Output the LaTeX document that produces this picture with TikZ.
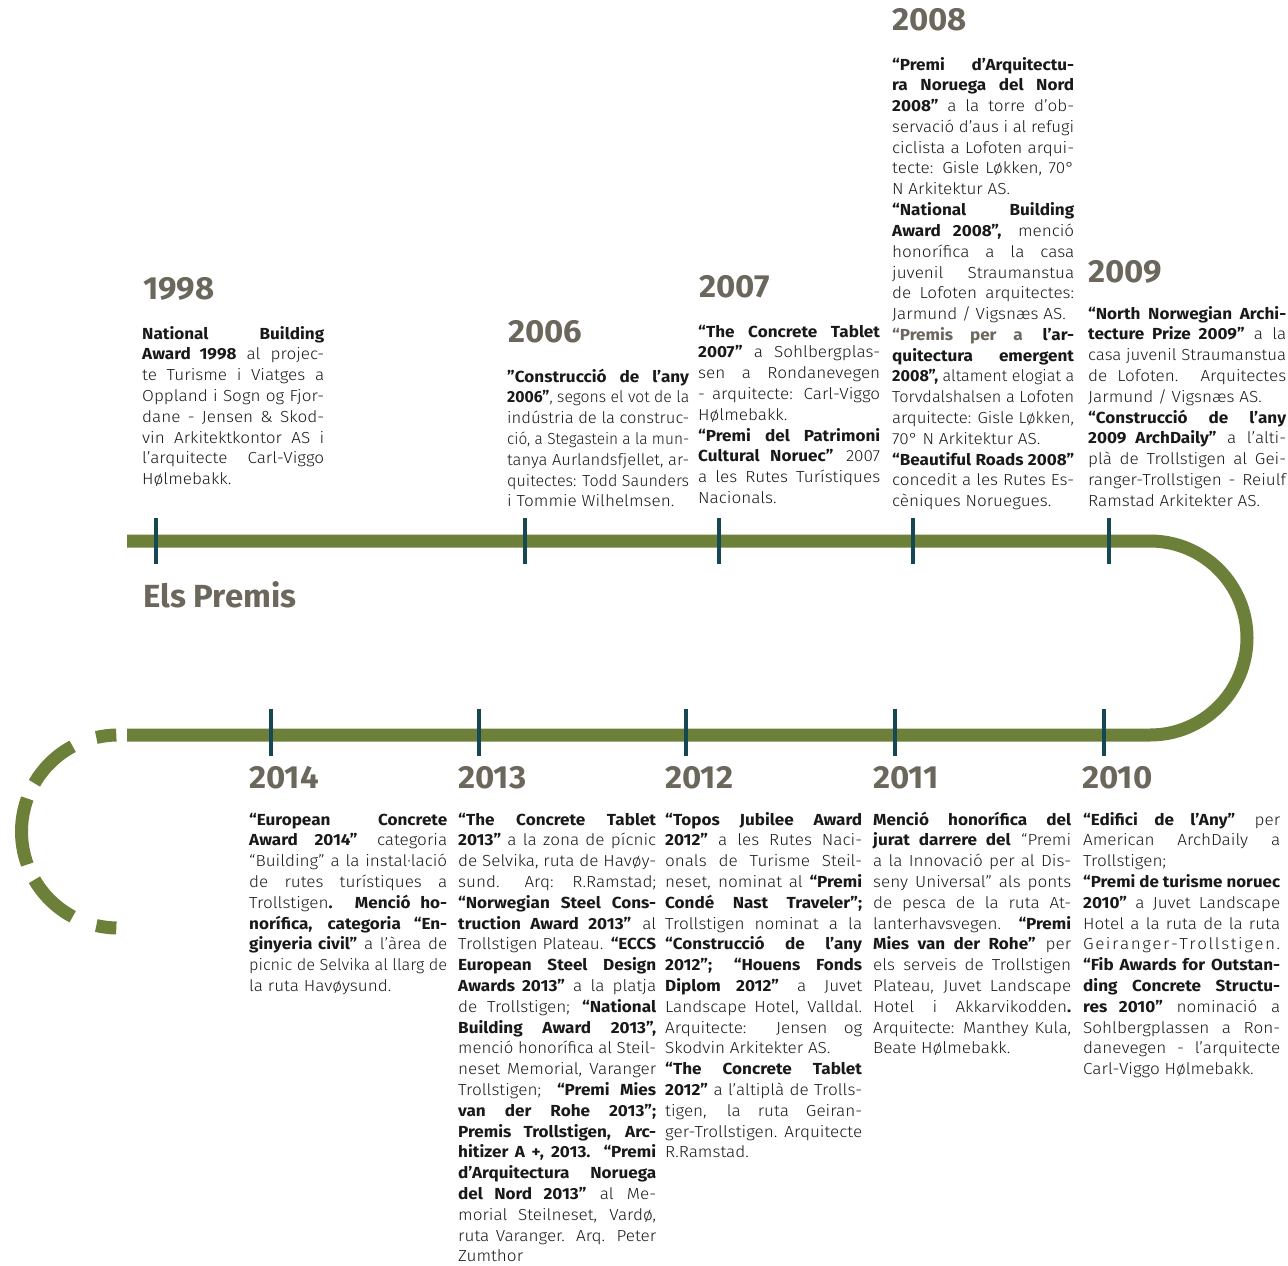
\documentclass[tikz,border=0pt]{standalone}
\usepackage{fontspec}
\usepackage{graphicx}
\setmainfont{Fira Sans}[UprightFont=* Light,BoldFont=* Bold,FakeStretch=1.07]
\newfontfamily\yfont{Fira Sans}[UprightFont=* Bold,FakeStretch=1.03]
\definecolor{grn}{RGB}{108,128,58}
\definecolor{yr}{RGB}{107,103,93}
\definecolor{tickc}{RGB}{22,72,84}
\definecolor{txt}{RGB}{25,25,25}
\newsavebox\lbox
\newcommand\JL[1]{\sbox\lbox{#1}\ifdim\wd\lbox>\hsize
  \hbox to\hsize{\resizebox{\hsize}{\height}{\usebox\lbox}}\else
  \hbox to\hsize{#1}\fi}
\newcommand\EL[1]{\sbox\lbox{#1}\ifdim\wd\lbox>\hsize
  \hbox to\hsize{\resizebox{\hsize}{\height}{\usebox\lbox}}\else
  \hbox{#1}\fi}
\newcommand\blk[2]{\vtop{\hsize=#1pt\relax#2}}
\begin{document}
\begin{tikzpicture}[x=1pt,y=-1pt,
  year/.style={anchor=base west,inner sep=0pt,font=\fontsize{32}{36}\selectfont\yfont,text=yr},
  body/.style={anchor=base west,inner sep=0pt,font=\fontsize{16}{20.8}\selectfont,text=txt},
  tickmark/.style={draw=tickc,line width=3.5pt},
  tl/.style={draw=grn,line width=13pt}]
\useasboundingbox (0,0) rectangle (1288,1266);

% timeline
\draw[tl] (127,541) -- (1150,541) arc[start angle=90,end angle=-90,radius=97pt] -- (127,735);
\foreach \a/\b in {91/103,118/150,160/200,210/242,257/269}
  \draw[tl] ({118+96.5*cos(\a)},{831.5-96.5*sin(\a)}) arc[start angle=\a,end angle=\b,radius=96.5pt];
\foreach \x in {156,525,719,913,1109} \draw[tickmark] (\x,518) -- (\x,564);
\foreach \x in {271,479,686,895,1104} \draw[tickmark] (\x,709) -- (\x,756);

\node[year] (title) at (143,607) {Els Premis};

% years
\node[year] (y1998) at (143,299) {1998};
\node[year] (y2006) at (508,342) {2006};
\node[year] (y2007) at (699,297) {2007};
\node[year] (y2008) at (892,30) {2008};
\node[year] (y2009) at (1088,282) {2009};
\node[year] (y2014) at (249,788) {2014};
\node[year] (y2013) at (458,788) {2013};
\node[year] (y2012) at (665,788) {2012};
\node[year] (y2011) at (873,788) {2011};
\node[year] (y2010) at (1082,788) {2010};

% texts
\node[body] (t1998) at (142,339) {\blk{182}{%
\JL{\textbf{National Building}}
\JL{\textbf{Award 1998} al projec-}
\JL{te Turisme i Viatges a}
\JL{Oppland i Sogn og Fjor-}
\JL{dane - Jensen \& Skod-}
\JL{vin Arkitektkontor AS i}
\JL{l’arquitecte Carl-Viggo}
\EL{Hølmebakk.}}};

\node[body] (t2006) at (507,382) {\blk{182}{%
\JL{\textbf{"Construcció de l’any}}
\JL{\textbf{2006"}, segons el vot de la}
\JL{indústria de la construc-}
\JL{ció, a Stegastein a la mun-}
\JL{tanya Aurlandsfjellet, ar-}
\JL{quitectes: Todd Saunders}
\EL{i Tommie Wilhelmsen.}}};

\node[body] (t2007) at (698,337) {\blk{182}{%
\JL{\textbf{“The Concrete Tablet}}
\JL{\textbf{2007”} a Sohlbergplas-}
\JL{sen a Rondanevegen}
\JL{- arquitecte: Carl-Viggo}
\EL{Hølmebakk.}
\JL{\textbf{“Premi del Patrimoni}}
\JL{\textbf{Cultural Noruec”} 2007}
\JL{a les Rutes Turístiques}
\EL{Nacionals.}}};

\node[body] (t2008) at (892,70) {\blk{182}{%
\JL{\textbf{“Premi d’Arquitectu-}}
\JL{\textbf{ra Noruega del Nord}}
\JL{\textbf{2008”} a la torre d’ob-}
\JL{servació d’aus i al refugi}
\JL{ciclista a Lofoten arqui-}
\JL{tecte: Gisle Løkken, 70°}
\EL{N Arkitektur AS.}
\JL{\textbf{“National Building}}
\JL{\textbf{Award 2008”,} menció}
\JL{honorífica a la casa}
\JL{juvenil Straumanstua}
\JL{de Lofoten arquitectes:}
\EL{Jarmund / Vigsnæs AS.}
\JL{\textcolor{yr}{\textbf{“Premis per a}} \textbf{l’ar-}}
\JL{\textbf{quitectura emergent}}
\JL{\textbf{2008”,} altament elogiat a}
\JL{Torvdalshalsen a Lofoten}
\JL{arquitecte: Gisle Løkken,}
\EL{70° N Arkitektur AS.}
\JL{\textbf{“Beautiful Roads 2008”}}
\JL{concedit a les Rutes Es-}
\EL{cèniques Noruegues.}}};

\node[body] (t2009) at (1088,319) {\blk{198}{%
\JL{\textbf{“North Norwegian Archi-}}
\JL{\textbf{tecture Prize 2009”} a la}
\JL{casa juvenil Straumanstua}
\JL{de Lofoten. Arquitectes}
\EL{Jarmund / Vigsnæs AS.}
\JL{\textbf{“Construcció de l’any}}
\JL{\textbf{2009 ArchDaily”} a l’alti-}
\JL{plà de Trollstigen al Gei-}
\JL{ranger-Trollstigen - Reiulf}
\EL{Ramstad Arkitekter AS.}}};

\node[body] (t2014) at (249,825) {\blk{198}{%
\JL{\textbf{“European Concrete}}
\JL{\textbf{Award 2014”} categoria}
\JL{“Building” a la instal·lació}
\JL{de rutes turístiques a}
\JL{Trollstigen\textbf{. Menció ho-}}
\JL{\textbf{norífica, categoria “En-}}
\JL{\textbf{ginyeria civil”} a l’àrea de}
\JL{picnic de Selvika al llarg de}
\EL{la ruta Havøysund.}}};

\node[body] (t2013) at (458,825) {\blk{198}{%
\JL{\textbf{“The Concrete Tablet}}
\JL{\textbf{2013”} a la zona de pícnic}
\JL{de Selvika, ruta de Havøy-}
\JL{sund. Arq: R.Ramstad;}
\JL{\textbf{“Norwegian Steel Cons-}}
\JL{\textbf{truction Award 2013”} al}
\JL{Trollstigen Plateau. \textbf{“ECCS}}
\JL{\textbf{European Steel Design}}
\JL{\textbf{Awards 2013”} a la platja}
\JL{de Trollstigen; \textbf{“National}}
\JL{\textbf{Building Award 2013”,}}
\JL{menció honorífica al Steil-}
\JL{neset Memorial, Varanger}
\JL{Trollstigen; \textbf{“Premi Mies}}
\JL{\textbf{van der Rohe 2013”;}}
\JL{\textbf{Premis Trollstigen, Arc-}}
\JL{\textbf{hitizer A +, 2013. “Premi}}
\JL{\textbf{d’Arquitectura Noruega}}
\JL{\textbf{del Nord 2013”} al Me-}
\JL{morial Steilneset, Vardø,}
\JL{ruta Varanger. Arq. Peter}
\EL{Zumthor}}};

\node[body] (t2012) at (665,825) {\blk{197}{%
\JL{\textbf{“Topos Jubilee Award}}
\JL{\textbf{2012”} a les Rutes Naci-}
\JL{onals de Turisme Steil-}
\JL{neset, nominat al \textbf{“Premi}}
\JL{\textbf{Condé Nast Traveler”;}}
\JL{Trollstigen nominat a la}
\JL{\textbf{“Construcció de l’any}}
\JL{\textbf{2012”; “Houens Fonds}}
\JL{\textbf{Diplom 2012”} a Juvet}
\JL{Landscape Hotel, Valldal.}
\JL{Arquitecte: Jensen og}
\EL{Skodvin Arkitekter AS.}
\JL{\textbf{“The Concrete Tablet}}
\JL{\textbf{2012”} a l’altiplà de Trolls-}
\JL{tigen, la ruta Geiran-}
\JL{ger-Trollstigen. Arquitecte}
\EL{R.Ramstad.}}};

\node[body] (t2011) at (873,825) {\blk{198}{%
\JL{\textbf{Menció honorífica del}}
\JL{\textbf{jurat darrere del} “Premi}
\JL{a la Innovació per al Dis-}
\JL{seny Universal” als ponts}
\JL{de pesca de la ruta At-}
\JL{lanterhavsvegen. \textbf{“Premi}}
\JL{\textbf{Mies van der Rohe”} per}
\JL{els serveis de Trollstigen}
\JL{Plateau, Juvet Landscape}
\JL{Hotel i Akkarvikodden\textbf{.}}
\JL{Arquitecte: Manthey Kula,}
\EL{Beate Hølmebakk.}}};

\node[body] (t2010) at (1083,825) {\blk{197}{%
\JL{\textbf{“Edifici de l’Any”} per}
\JL{American ArchDaily a}
\EL{Trollstigen;}
\JL{\textbf{“Premi de turisme noruec}}
\JL{\textbf{2010”} a Juvet Landscape}
\JL{Hotel a la ruta de la ruta}
\JL{G\hfil e\hfil i\hfil r\hfil a\hfil n\hfil g\hfil e\hfil r\hfil -\hfil T\hfil r\hfil o\hfil l\hfil l\hfil s\hfil t\hfil i\hfil g\hfil e\hfil n\hfil .}
\JL{\textbf{“Fib Awards for Outstan-}}
\JL{\textbf{ding Concrete Structu-}}
\JL{\textbf{res 2010”} nominació a}
\JL{Sohlbergplassen a Ron-}
\JL{danevegen - l’arquitecte}
\EL{Carl-Viggo Hølmebakk.}}};
\end{tikzpicture}
\end{document}
